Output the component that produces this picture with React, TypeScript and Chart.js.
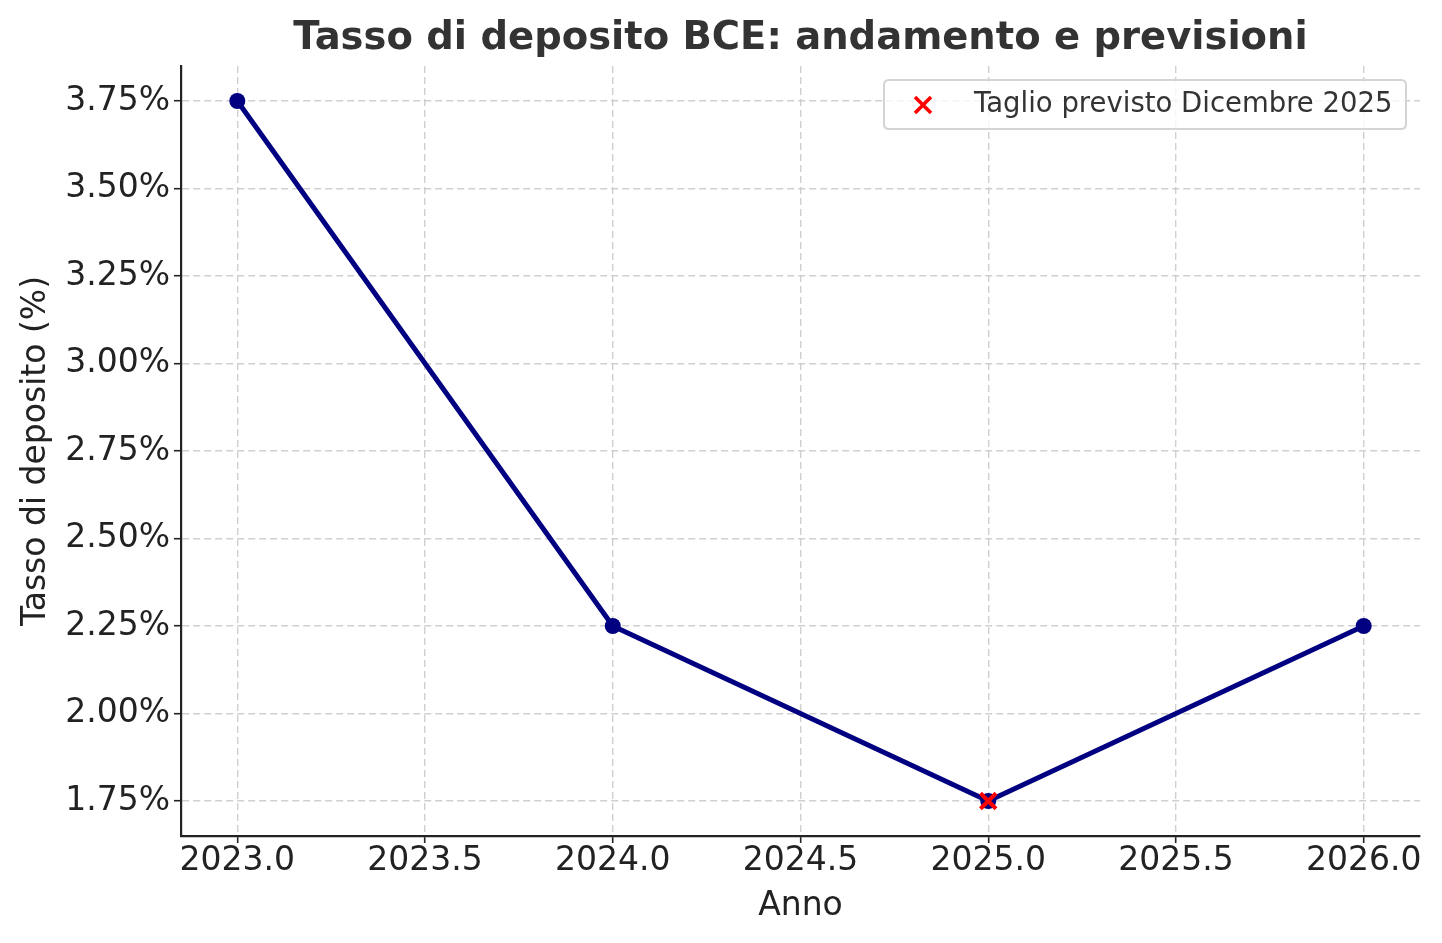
import React, { useEffect, useRef } from "react";
import { Chart, registerables } from "chart.js";

Chart.register(...registerables);

const years = [2023, 2024, 2025, 2026];
const rates = [3.75, 2.25, 1.75, 2.25];
const forecastYears = [2025];
const forecastRates = [1.75];
const xTicks = [2023.0, 2023.5, 2024.0, 2024.5, 2025.0, 2025.5, 2026.0];
const yTicks = [1.75, 2.0, 2.25, 2.5, 2.75, 3.0, 3.25, 3.5, 3.75];

const TITLE = "Tasso di deposito BCE: andamento e previsioni";
const X_LABEL = "Anno";
const Y_LABEL = "Tasso di deposito (%)";
const FORECAST_LABEL = "Taglio previsto Dicembre 2025";

const FONT = "'DejaVu Sans', sans-serif";

const legendPlugin = {
  id: "insideLegend",
  afterDraw(chart: any) {
    const { ctx, chartArea } = chart;
    const ds = chart.data.datasets.find((d: any) => d.showInLegend);
    if (!ds) return;
    ctx.save();
    const x1 = chartArea.right - 536;
    const y1 = chartArea.top + 14;
    const w = 522;
    const h = 49;
    const r = 5;
    ctx.beginPath();
    ctx.moveTo(x1 + r, y1);
    ctx.lineTo(x1 + w - r, y1);
    ctx.quadraticCurveTo(x1 + w, y1, x1 + w, y1 + r);
    ctx.lineTo(x1 + w, y1 + h - r);
    ctx.quadraticCurveTo(x1 + w, y1 + h, x1 + w - r, y1 + h);
    ctx.lineTo(x1 + r, y1 + h);
    ctx.quadraticCurveTo(x1, y1 + h, x1, y1 + h - r);
    ctx.lineTo(x1, y1 + r);
    ctx.quadraticCurveTo(x1, y1, x1 + r, y1);
    ctx.closePath();
    ctx.fillStyle = "rgba(255,255,255,0.8)";
    ctx.fill();
    ctx.strokeStyle = "#d4d4d4";
    ctx.lineWidth = 2;
    ctx.stroke();
    // marker
    const mx = x1 + 39;
    const my = y1 + 25;
    const s = 8;
    ctx.strokeStyle = ds.borderColor;
    ctx.lineWidth = 3.6;
    ctx.beginPath();
    ctx.moveTo(mx - s, my - s);
    ctx.lineTo(mx + s, my + s);
    ctx.moveTo(mx - s, my + s);
    ctx.lineTo(mx + s, my - s);
    ctx.stroke();
    ctx.fillStyle = "#333333";
    ctx.font = `27.5px ${FONT}`;
    ctx.textAlign = "left";
    ctx.textBaseline = "middle";
    ctx.fillText(ds.label, x1 + 90, my);
    ctx.restore();
  },
};

export default function App() {
  const ref = useRef<HTMLCanvasElement | null>(null);

  useEffect(() => {
    document.body.style.margin = "0";
    const canvas = ref.current;
    if (!canvas) return;
    const chart = new Chart(canvas, {
      type: "line",
      data: {
        datasets: [
          {
            label: FORECAST_LABEL,
            data: forecastYears.map((x, i) => ({ x, y: forecastRates[i] })),
            showLine: false,
            pointStyle: "crossRot",
            pointRadius: 11,
            pointBorderWidth: 4,
            borderColor: "#ff0000",
            backgroundColor: "#ff0000",
            pointBorderColor: "#ff0000",
            order: 0,
            showInLegend: true,
          } as any,
          {
            label: "Tasso",
            data: years.map((x, i) => ({ x, y: rates[i] })),
            borderColor: "#000080",
            backgroundColor: "#000080",
            borderWidth: 5,
            pointRadius: 8,
            pointBackgroundColor: "#000080",
            pointBorderColor: "#000080",
            pointBorderWidth: 0,
            tension: 0,
            order: 1,
          },
        ],
      },
      options: {
        animation: false,
        responsive: false,
        devicePixelRatio: 1,
        layout: { padding: { left: 0, right: 22, top: 0, bottom: 0 } },
        plugins: {
          legend: { display: false },
          tooltip: { enabled: false },
          title: {
            display: true,
            text: TITLE,
            fullSize: false,
            color: "#333333",
            font: { family: FONT, size: 38.5, weight: "bold", lineHeight: 1 },
            padding: { top: 19.5, bottom: 8 },
          },
        },
        scales: {
          x: {
            type: "linear",
            min: 2022.85,
            max: 2026.15,
            afterFit: (scale: any) => {
              scale.height = 107;
            },
            afterBuildTicks: (scale: any) => {
              scale.ticks = xTicks.map((v) => ({ value: v }));
            },
            ticks: {
              color: "#222222",
              font: { family: FONT, size: 33, lineHeight: 1 },
              padding: 1.5,
              maxRotation: 0,
              autoSkip: false,
              callback: (v: any) => Number(v).toFixed(1),
            },
            grid: {
              color: "rgba(200,200,200,0.85)",
              lineWidth: 1.4,
              tickColor: "#222222",
              tickLength: 7,
              tickWidth: 1.6,
            },
            border: { display: true, color: "#222222", width: 2.2, dash: [7, 4] },
            title: {
              display: true,
              text: X_LABEL,
              color: "#222222",
              font: { family: FONT, size: 33, lineHeight: 1 },
              padding: { top: 0, bottom: 20 },
            },
          },
          y: {
            type: "linear",
            min: 1.65,
            max: 3.85,
            afterFit: (scale: any) => {
              scale.width = 181;
            },
            afterBuildTicks: (scale: any) => {
              scale.ticks = yTicks.map((v) => ({ value: v }));
            },
            ticks: {
              color: "#222222",
              font: { family: FONT, size: 33, lineHeight: 1 },
              padding: 4,
              autoSkip: false,
              callback: (v: any) => Number(v).toFixed(2) + "%",
            },
            grid: {
              color: "rgba(200,200,200,0.85)",
              lineWidth: 1.4,
              tickColor: "#222222",
              tickLength: 7,
              tickWidth: 1.6,
            },
            border: { display: true, color: "#222222", width: 2.2, dash: [7, 4] },
            title: {
              display: true,
              text: Y_LABEL,
              color: "#222222",
              font: { family: FONT, size: 33, lineHeight: 1 },
              padding: { top: 20, bottom: 0 },
            },
          },
        },
      },
      plugins: [legendPlugin],
    } as any);
    return () => chart.destroy();
  }, []);

  return (
    <canvas
      ref={ref}
      width={1442}
      height={943}
      style={{ display: "block", width: "1442px", height: "943px" }}
    />
  );
}
